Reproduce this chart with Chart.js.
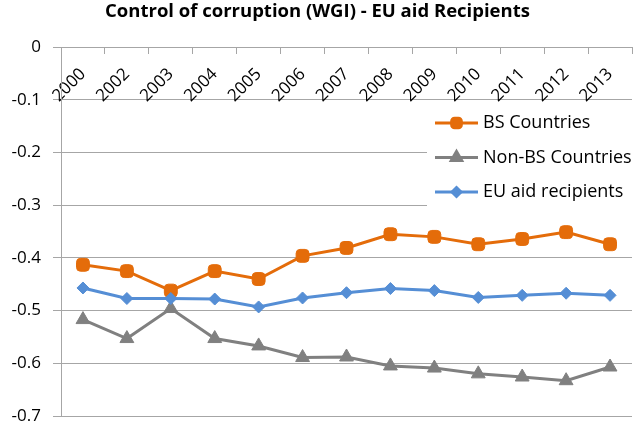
<!DOCTYPE html>
<html>
<head>
<meta charset="utf-8">
<script src="https://cdn.jsdelivr.net/npm/chart.js@4/dist/chart.umd.min.js"></script>
<style>
  html, body { margin: 0; padding: 0; background: #ffffff; }
  #wrap { width: 641px; height: 425px; position: relative; }
</style>
</head>
<body>
<div id="wrap"><canvas id="chart-wgi"></canvas></div>
<script>
// Control of corruption (WGI) scores by year
const years = ['2000', '2002', '2003', '2004', '2005', '2006', '2007', '2008', '2009', '2010', '2011', '2012', '2013'];
const bsCountries = [-0.413, -0.425, -0.462, -0.425, -0.440, -0.396, -0.381, -0.355, -0.360, -0.374, -0.364, -0.351, -0.374];
const nonBsCountries = [-0.517, -0.553, -0.496, -0.553, -0.567, -0.589, -0.588, -0.605, -0.609, -0.620, -0.626, -0.633, -0.607];
const euAidRecipients = [-0.457, -0.477, -0.477, -0.478, -0.493, -0.476, -0.466, -0.458, -0.462, -0.475, -0.471, -0.467, -0.471];

const FONT = '"Open Sans", Lato, sans-serif';
const GRID = '#a6a6a6';

// legend drawn inside the plot, on a white box over the grid
const insideLegend = {
    id: 'insideLegend',
    afterDraw(chart) {
        const ctx = chart.ctx;
        const box = { x: 427, y: 104, w: 214, h: 108 };
        ctx.save();
        ctx.fillStyle = '#ffffff';
        ctx.fillRect(box.x, box.y, box.w, box.h);
        ctx.font = '18px ' + FONT;
        ctx.textBaseline = 'middle';
        chart.data.datasets.forEach((ds, i) => {
            const y = 123 + i * 34.5;
            ctx.strokeStyle = ds.borderColor;
            ctx.lineWidth = ds.borderWidth;
            ctx.beginPath();
            ctx.moveTo(435, y);
            ctx.lineTo(478, y);
            ctx.stroke();
            ctx.fillStyle = ds.backgroundColor;
            ctx.strokeStyle = ds.borderColor;
            Chart.helpers.drawPoint(ctx, {
                pointStyle: ds.pointStyle,
                radius: ds.pointRadius * 0.75,
                rotation: 0,
                borderWidth: 1
            }, 456.5, y);
            ctx.fillStyle = '#000000';
            ctx.fillText(ds.label, 483, y);
        });
        ctx.restore();
    }
};

const ctx = document.getElementById('chart-wgi').getContext('2d');
new Chart(ctx, {
    type: 'line',
    data: {
        labels: years,
        datasets: [
            {
                label: 'BS Countries',
                data: bsCountries,
                borderColor: '#e46c0a',
                backgroundColor: '#e46c0a',
                borderWidth: 3,
                pointStyle: 'rectRounded',
                pointRadius: 7.5,
                pointBorderWidth: 1,
                tension: 0,
                order: 3
            },
            {
                label: 'Non-BS Countries',
                data: nonBsCountries,
                borderColor: '#808080',
                backgroundColor: '#808080',
                borderWidth: 3,
                pointStyle: 'triangle',
                pointRadius: 8,
                pointBorderWidth: 1,
                tension: 0,
                order: 2
            },
            {
                label: 'EU aid recipients',
                data: euAidRecipients,
                borderColor: '#558ed5',
                backgroundColor: '#558ed5',
                borderWidth: 3,
                pointStyle: 'rectRot',
                pointRadius: 6,
                pointBorderWidth: 1,
                tension: 0,
                order: 1
            }
        ]
    },
    options: {
        responsive: true,
        maintainAspectRatio: false,
        animation: false,
        layout: {
            padding: { top: 0, right: 6, bottom: 7, left: 0 }
        },
        plugins: {
            legend: { display: false },
            tooltip: { enabled: false },
            title: {
                display: true,
                text: 'Control of corruption (WGI) - EU aid Recipients',
                color: '#000000',
                font: { family: FONT, size: 18.5, weight: 'bold' },
                padding: { top: 1, bottom: 24 }
            }
        },
        scales: {
            x: {
                position: { y: 0 },
                offset: true,
                grid: {
                    display: true,
                    drawOnChartArea: false,
                    offset: true,
                    color: GRID,
                    tickLength: 6
                },
                border: { display: true, color: GRID },
                ticks: {
                    autoSkip: false,
                    minRotation: 45,
                    maxRotation: 45,
                    padding: 11,
                    color: '#000000',
                    font: { family: FONT, size: 17 }
                },
                // labels sit inside the plot under the zero line
                afterFit(scale) { scale.height = 0; }
            },
            y: {
                min: -0.7,
                max: 0,
                grid: { color: GRID, tickLength: 8 },
                border: { display: true, color: GRID },
                ticks: {
                    stepSize: 0.1,
                    padding: 12,
                    color: '#000000',
                    font: { family: FONT, size: 17 }
                },
                afterFit(scale) {
                    scale.width = 61;
                    scale.paddingTop = 0;
                    scale.paddingBottom = 0;
                }
            }
        }
    },
    plugins: [insideLegend]
});
</script>
</body>
</html>
